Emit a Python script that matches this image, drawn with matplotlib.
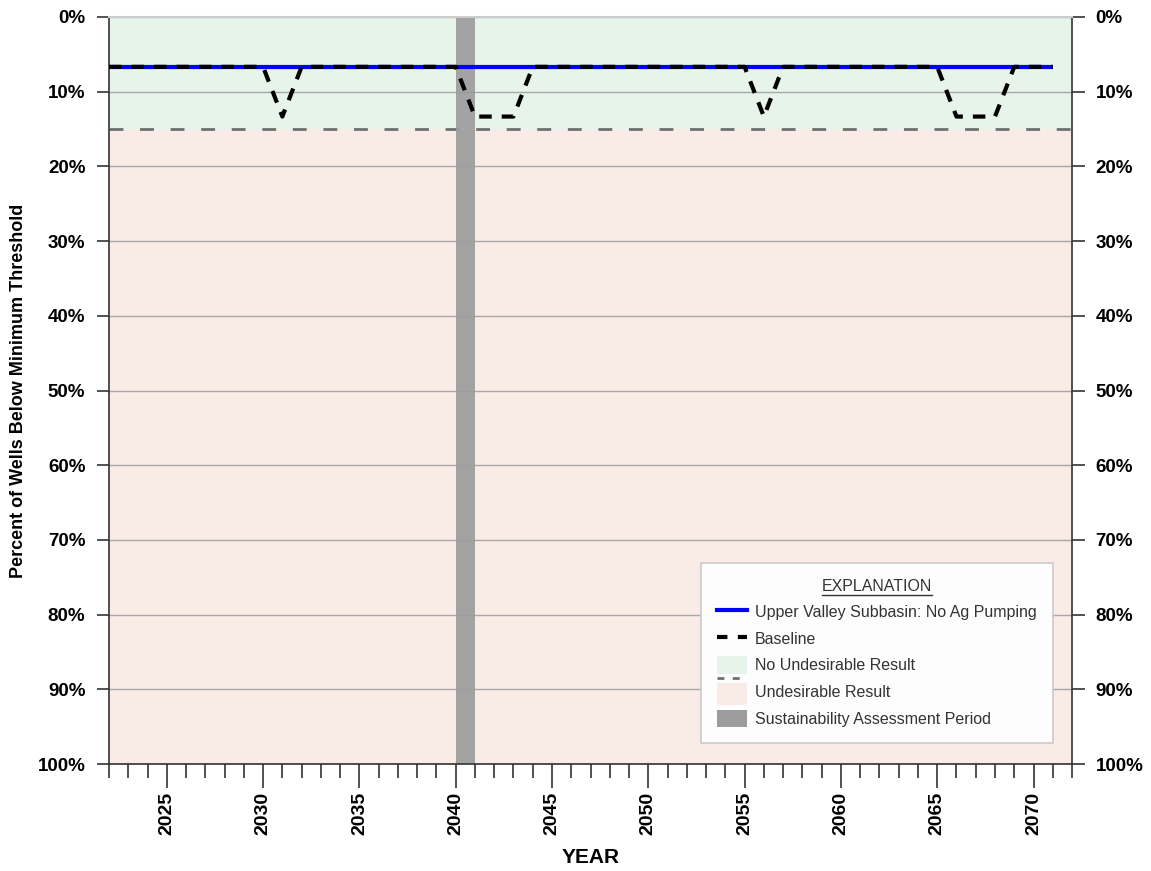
import matplotlib
matplotlib.use("Agg")
import matplotlib.pyplot as plt
from matplotlib.lines import Line2D
from matplotlib.patches import Patch, Rectangle
from matplotlib.legend_handler import HandlerBase
from matplotlib.ticker import MultipleLocator, FuncFormatter
import numpy as np

# ---- data ----
years = list(range(2022, 2072))
no_ag = [6.67] * len(years)
baseline_dips = {2031: 13.33, 2041: 13.33, 2042: 13.33, 2043: 13.33,
                 2056: 13.33, 2066: 13.33, 2067: 13.33, 2068: 13.33}
baseline = [baseline_dips.get(y, 6.67) for y in years]
threshold = 15.0
assess_start, assess_end = 2040, 2041
xlim = (2022, 2072)
y_ticks = list(range(0, 101, 10))

plt.rcParams['font.family'] = ['Liberation Sans Narrow', 'Liberation Sans', 'DejaVu Sans']

fig = plt.figure(figsize=(11.51, 8.71), dpi=100)
ax = fig.add_axes([0.0947, 0.1228, 0.8367, 0.8577])

ax.set_xlim(*xlim)
ax.set_ylim(100, 0)

ax.axhspan(0, threshold, color='#e6f4ea', zorder=0, lw=0)
ax.axhspan(threshold, 100, color='#f9ebe6', zorder=0, lw=0)
for t in y_ticks:
    ax.axhline(t, color='#a8a8a8', lw=1.0, zorder=1)
ax.axhline(threshold, color='#707070', lw=2, ls=(0, (5, 6)), zorder=2)
ax.axvspan(assess_start, assess_end, color='#9c9c9c', alpha=0.92, lw=0, zorder=2)

ax.plot(years, no_ag, color='#0000ff', lw=3, zorder=3, solid_capstyle='butt')
ax.plot(years, baseline, color='black', lw=3, ls=(0, (3.0, 2.4)), zorder=4)

# axes styling
for s in ['left', 'right', 'bottom']:
    ax.spines[s].set_color('#333333')
    ax.spines[s].set_linewidth(1.2)
ax.spines['top'].set_color('#cccccc')
ax.spines['top'].set_linewidth(1.5)

ax.yaxis.set_major_locator(MultipleLocator(10))
ax.yaxis.set_major_formatter(FuncFormatter(lambda v, p: f"{int(v)}%"))
ax.tick_params(axis='y', which='major', direction='out', length=9, width=1.2,
               color='#333333', left=True, right=True, labelleft=True, labelright=True,
               labelsize=13.5, pad=8)
for lab in ax.get_yticklabels():
    lab.set_fontweight('bold')

ax.xaxis.set_major_locator(MultipleLocator(5))
ax.xaxis.set_minor_locator(MultipleLocator(1))
ax.xaxis.set_major_formatter(FuncFormatter(lambda v, p: "" if (v < 2025 or v > 2070) else f"{int(v)}"))
ax.tick_params(axis='x', which='major', direction='out', length=17, width=1.2,
               color='#333333', labelsize=14, labelrotation=90, pad=3)
ax.tick_params(axis='x', which='minor', direction='out', length=10, width=1.2, color='#333333')
for lab in ax.get_xticklabels():
    lab.set_fontweight('bold')

ax.set_xlabel('YEAR', fontsize=15, fontweight='bold')
ax.xaxis.set_label_coords(0.5, -0.113)
ax.set_ylabel('Percent of Wells Below Minimum Threshold', fontsize=13, fontweight='bold')
ax.yaxis.set_label_coords(-0.085, 0.5)


class HandlerPatchTopLine(HandlerBase):
    def create_artists(self, legend, orig_handle, xdescent, ydescent, width, height, fontsize, trans):
        r = Rectangle((-xdescent, -ydescent - 3), width, height + 3, facecolor='#f9ebe6',
                      edgecolor='none', transform=trans)
        l = Line2D([-xdescent, -xdescent + width], [height + 1, height + 1], color='#707070',
                   lw=2, ls=(0, (2.5, 3)), transform=trans)
        return [r, l]


class UndesirableHandle:
    pass


handles = [
    Line2D([], [], color='#0000ff', lw=3),
    Line2D([], [], color='black', lw=3, ls=(0, (2.5, 2.5))),
    Patch(facecolor='#e6f4ea', edgecolor='none'),
    UndesirableHandle(),
    Patch(facecolor='#9c9c9c', edgecolor='none'),
]
labels = ['Upper Valley Subbasin: No Ag Pumping', 'Baseline', 'No Undesirable Result',
          'Undesirable Result', 'Sustainability Assessment Period']
leg = ax.legend(handles, labels, loc='lower right', bbox_to_anchor=(0.980, 0.028),
                borderaxespad=0,
                title='EXPLANATION', title_fontsize=11.5, fontsize=11.5,
                frameon=True, fancybox=False, edgecolor='#c8c8c8', framealpha=0.95,
                handlelength=1.9, handleheight=1.3, handletextpad=0.5,
                labelspacing=0.58, borderpad=1.0,
                handler_map={UndesirableHandle: HandlerPatchTopLine()})
leg.get_frame().set_linewidth(1.2)
for t in leg.get_texts():
    t.set_color('#333333')
leg.get_title().set_color('#333333')
leg.set_zorder(10)

# underline the legend title
fig.canvas.draw()
bb = leg.get_title().get_window_extent(fig.canvas.get_renderer())
inv = fig.transFigure.inverted()
(x0, y0), (x1, y1) = inv.transform([(bb.x0, bb.y0 - 1), (bb.x1, bb.y0 - 1)])
fig.add_artist(Line2D([x0, x1], [y0, y1], color='#333333', lw=1.0, transform=fig.transFigure, zorder=20))

fig.savefig('out.png', dpi=100)
